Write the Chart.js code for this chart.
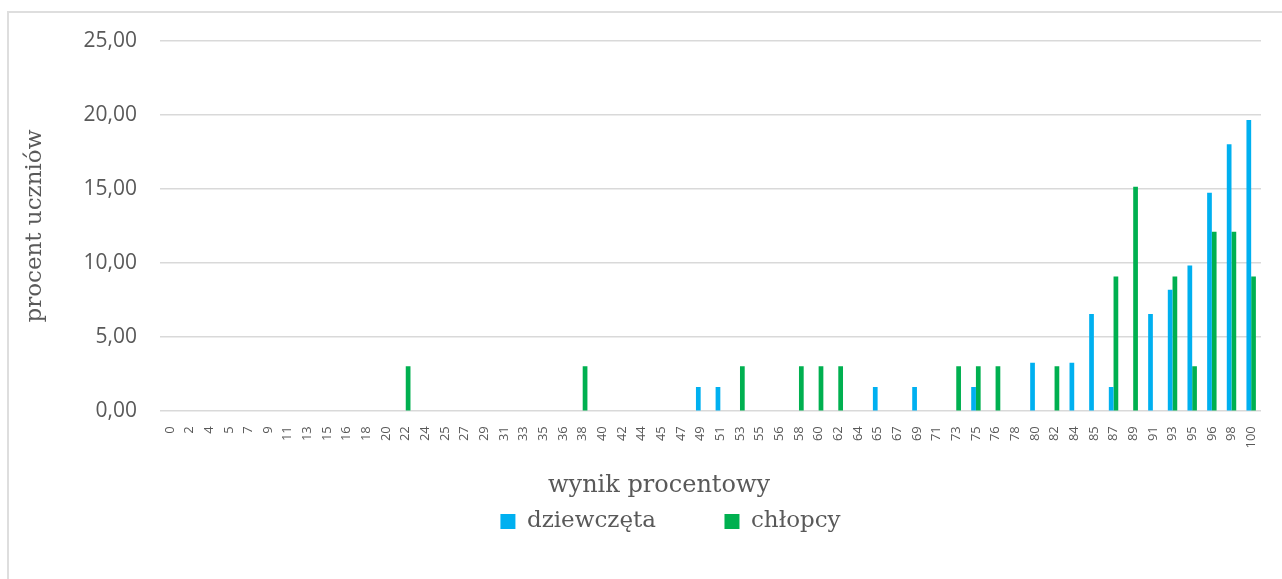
<!DOCTYPE html>
<html lang="pl">
<head>
<meta charset="utf-8">
<title>Wynik procentowy</title>
<script src="https://cdn.jsdelivr.net/npm/chart.js@4/dist/chart.umd.min.js"></script>
<style>
  html, body { margin: 0; padding: 0; background: #fff; overflow: hidden; }
  #frame {
    position: absolute; left: 7px; top: 11px;
    width: 1400px; height: 700px;
    border: 2px solid #dedede;
  }
  #wrap { position: absolute; left: 0; top: 0; width: 1282px; height: 579px; }
</style>
</head>
<body>
<div id="frame"></div>
<div id="wrap"><canvas id="chart" width="1282" height="579"></canvas></div>
<script>
// categories on the x axis (wynik procentowy)
const categories = ['0', '2', '4', '5', '7', '9', '11', '13', '15', '16', '18', '20',
  '22', '24', '25', '27', '29', '31', '33', '35', '36', '38', '40', '42', '44', '45',
  '47', '49', '51', '53', '55', '56', '58', '60', '62', '64', '65', '67', '69', '71',
  '73', '75', '76', '78', '80', '82', '84', '85', '87', '89', '91', '93', '95', '96',
  '98', '100'];

// only non-zero results, everything else is 0
const girlsScores = ['49', '51', '65', '69', '75', '80', '84', '85', '87', '91', '93', '95', '96', '98', '100'];
const girlsValues = [1.64, 1.64, 1.64, 1.64, 1.64, 3.28, 3.28, 6.56, 1.64, 6.56, 8.20, 9.84, 14.75, 18.03, 19.67];

const boysScores = ['22', '38', '53', '58', '60', '62', '73', '75', '76', '82', '87', '89', '93', '95', '96', '98', '100'];
const boysValues = [3.03, 3.03, 3.03, 3.03, 3.03, 3.03, 3.03, 3.03, 3.03, 3.03, 9.09, 15.15, 9.09, 3.03, 12.12, 12.12, 9.09];

const yTicks = [0, 5, 10, 15, 20, 25];

function fillSeries(scores, values) {
  return categories.map(c => {
    const i = scores.indexOf(c);
    return i === -1 ? 0 : values[i];
  });
}

const GREY = '#595959';
const SERIF = '"DejaVu Serif", serif';

new Chart(document.getElementById('chart'), {
  type: 'bar',
  data: {
    labels: categories,
    datasets: [
      { label: 'dziewczęta', data: fillSeries(girlsScores, girlsValues), backgroundColor: '#00B0F0' },
      { label: 'chłopcy', data: fillSeries(boysScores, boysValues), backgroundColor: '#00B050' }
    ]
  },
  options: {
    responsive: false,
    animation: false,
    devicePixelRatio: 1,
    layout: { padding: { left: 80, right: 21, top: 41, bottom: 36 } },
    datasets: { bar: { categoryPercentage: 0.48, barPercentage: 1 } },
    scales: {
      x: {
        grid: { display: false },
        border: { display: false },
        ticks: {
          autoSkip: false, minRotation: 90, maxRotation: 90, padding: 7,
          color: GREY, font: { family: '"Open Sans"', size: 13 }
        },
        afterFit: s => { s.height = 38; }
      },
      y: {
        min: 0, max: 25,
        afterBuildTicks: s => { s.ticks = yTicks.map(v => ({ value: v })); },
        grid: { color: '#d9d9d9', lineWidth: 1.5, drawTicks: false },
        border: { display: false },
        ticks: {
          padding: 23, color: GREY, font: { family: '"Open Sans"', size: 21 },
          callback: v => v.toFixed(2).replace('.', ',')
        },
        title: {
          display: true, text: 'procent uczniów', color: GREY,
          font: { family: SERIF, size: 23 }, padding: { top: -58.8, bottom: 0 }
        },
        afterFit: s => { s.width = 80; }
      }
    },
    plugins: {
      title: {
        // trailing spaces move the centred title a little left of the legend
        display: true, position: 'bottom', weight: 500, text: 'wynik procentowy   ', color: GREY,
        font: { family: SERIF, size: 24, weight: 'normal' }, padding: { top: 22, bottom: 0 }
      },
      legend: {
        position: 'bottom',
        labels: {
          boxWidth: 15, boxHeight: 15, padding: 10,
          color: GREY, font: { family: SERIF, size: 23 },
          // wider gap after the first entry, like the original
          generateLabels: chart => {
            const items = Chart.defaults.plugins.legend.labels.generateLabels(chart);
            items[0].text += '        ';
            return items;
          }
        }
      },
      tooltip: { enabled: false }
    }
  }
});
</script>
</body>
</html>
